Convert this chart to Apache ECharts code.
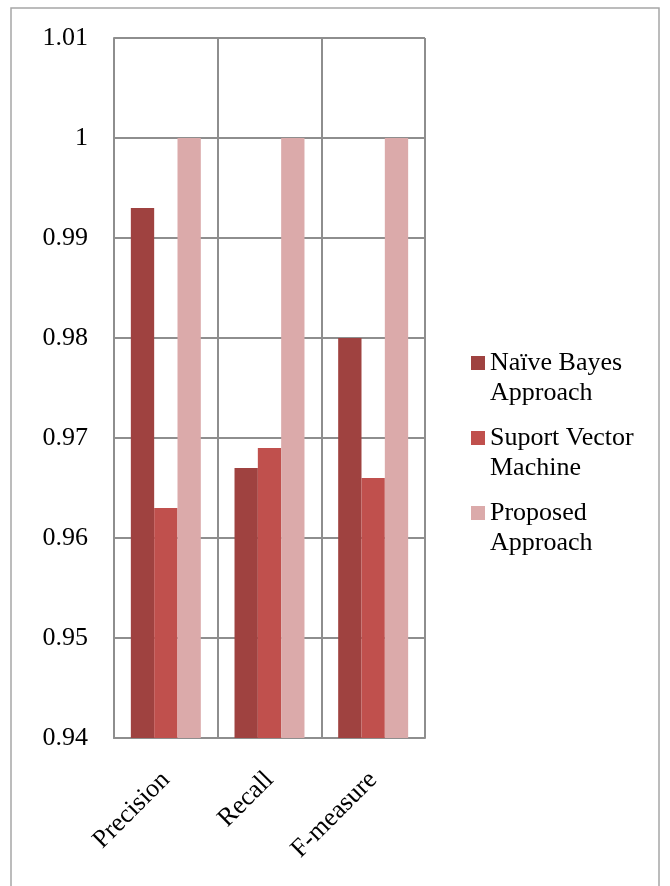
<!DOCTYPE html>
<html>
<head>
<meta charset="utf-8">
<script src="https://cdn.jsdelivr.net/npm/echarts@6/dist/echarts.min.js"></script>
<style>
  html, body { margin: 0; padding: 0; background: #fff; }
  #chart { width: 670px; height: 886px; }
</style>
</head>
<body>
<div id="chart"></div>
<script>
// Categories and scores for each approach
const categories = ['Precision', 'Recall', 'F-measure'];
const naiveBayes = [0.993, 0.967, 0.980];
const svm = [0.963, 0.969, 0.966];
const proposed = [1.0, 1.0, 1.0];
const seriesNames = ['Naïve Bayes\nApproach', 'Suport Vector\nMachine', 'Proposed\nApproach'];
const colors = ['#9F4240', '#C0504D', '#DBAAAA'];

const font = '"Liberation Serif", "Times New Roman", serif';
const gridColor = '#8E8E8E';

// Legend marker: a small square sitting beside the first text line,
// with two near-invisible dots stretching the path box to the full item height.
const legendIcon = 'path://M0,0h0.01v0.01h-0.01z M0,8h14v14h-14z M0,59.99h0.01v0.01h-0.01z';

const chart = echarts.init(document.getElementById('chart'));
chart.setOption({
  animation: false,
  color: colors,
  textStyle: { fontFamily: font },
  graphic: [{
    type: 'rect',
    shape: { x: 11, y: 8, width: 648, height: 900 },
    style: { fill: 'none', stroke: '#A6A6A6', lineWidth: 1.5 },
    z: -1
  }],
  grid: { left: 114, right: 245, top: 38, bottom: 148 },
  legend: {
    orient: 'vertical',
    left: 466,
    top: 343,
    itemWidth: 14,
    itemHeight: 60,
    itemGap: 15,
    icon: legendIcon,
    textStyle: { fontFamily: font, fontSize: 26, color: '#000', lineHeight: 30 },
    data: seriesNames
  },
  xAxis: {
    type: 'category',
    data: categories,
    axisLine: { lineStyle: { color: gridColor, width: 2 } },
    axisTick: { show: false },
    splitLine: { show: true, lineStyle: { color: gridColor, width: 2 } },
    axisLabel: {
      rotate: 45,
      margin: 38,
      fontFamily: font,
      fontSize: 26,
      color: '#000'
    }
  },
  yAxis: {
    type: 'value',
    min: 0.94,
    max: 1.01,
    interval: 0.01,
    axisLine: { show: true, lineStyle: { color: gridColor, width: 2 } },
    axisTick: { show: false },
    splitLine: { lineStyle: { color: gridColor, width: 2 } },
    axisLabel: {
      margin: 26,
      fontFamily: font,
      fontSize: 26,
      color: '#000',
      formatter: v => String(Number(v.toFixed(2)))
    }
  },
  series: [
    { name: seriesNames[0], type: 'bar', data: naiveBayes, barGap: '0%', barCategoryGap: '32.5%' },
    { name: seriesNames[1], type: 'bar', data: svm, barGap: '0%', barCategoryGap: '32.5%' },
    { name: seriesNames[2], type: 'bar', data: proposed, barGap: '0%', barCategoryGap: '32.5%' }
  ]
});
</script>
</body>
</html>
